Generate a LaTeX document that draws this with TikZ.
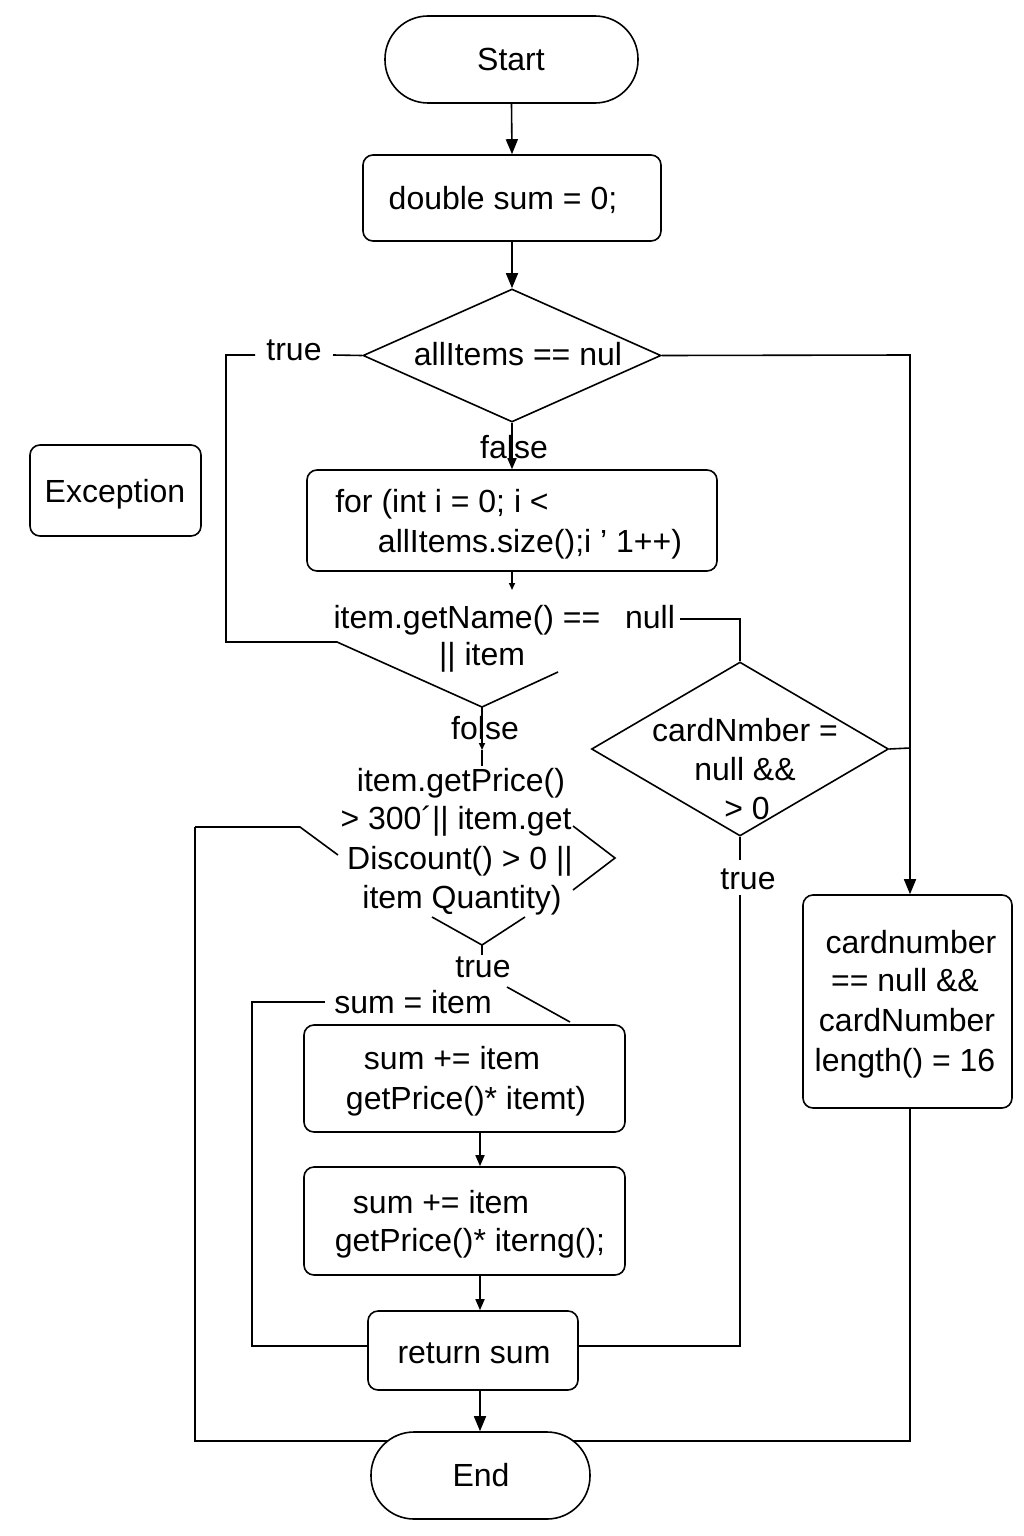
\documentclass[tikz,border=0pt]{standalone}
\usepackage{fontspec}
\setmainfont{Liberation Sans}
\usetikzlibrary{arrows.meta,shapes.geometric}
\begin{document}
\begin{tikzpicture}[x=1pt,y=-1pt,line width=1.6pt,
  box/.style={draw,rounded corners=10pt,inner sep=0pt},
  stad/.style={draw,rounded corners=43pt,inner sep=0pt},
  dia/.style={draw,diamond,inner sep=0pt},
  txt/.style={anchor=base,inner sep=0pt,font=\fontsize{32}{38}\selectfont},
  arr/.style={-{Triangle[length=15pt,width=12pt]}},
  marr/.style={-{Triangle[length=11pt,width=9pt]}},
  sarr/.style={-{Triangle[length=7pt,width=6pt]}}]
\useasboundingbox (0,0) rectangle (1024,1536);
% shapes
\node[stad,minimum width=253pt,minimum height=87pt] (start) at (511.5,59.5) {};
\node[box,minimum width=298pt,minimum height=86pt] (dbl) at (512,198) {};
\node[dia,minimum width=298pt,minimum height=133pt] (d1) at (512,355.5) {};
\node[box,minimum width=410pt,minimum height=101pt] (for) at (512,520.5) {};
\node[box,minimum width=171pt,minimum height=91pt] (exc) at (115.5,490.5) {};
\node[dia,minimum width=297pt,minimum height=174pt] (d2) at (740,749) {};
\node[box,minimum width=209pt,minimum height=213pt] (cn) at (907.5,1001.5) {};
\node[box,minimum width=321pt,minimum height=107pt] (s1) at (464.5,1078.5) {};
\node[box,minimum width=321pt,minimum height=108pt] (s2) at (464.5,1221) {};
\node[box,minimum width=210pt,minimum height=79pt] (ret) at (473,1350.5) {};
\node[stad,minimum width=219pt,minimum height=87pt] (End) at (480.5,1475.5) {};
% texts
\node[txt] (tstart) at (511,71) {Start};
\node[txt] (tdbl) at (503,209) {double sum = 0;};
\node[txt] (td1) at (518,365) {allItems == nul};
\node[txt] (ttrue1) at (294,360) {true};
\node[txt] (tfalse) at (514,458) {false};
\node[txt] (tfor1) at (442,512) {for (int i = 0; i <};
\node[txt] (tfor2) at (530,552) {allItems.size();i ’ 1++)};
\node[txt] (tgn1) at (467,628) {item.getName() ==};
\node[txt] (tnull) at (650,628) {null};
\node[txt] (tgn2) at (482,665) {|| item};
\node[txt] (tfolse) at (485,739) {folse};
\node[txt] (tp1) at (461,791) {item.getPrice()};
\node[txt] (tp2) at (456,829) {> 300´|| item.get};
\node[txt] (tp3) at (460,869) {Discount() > 0 ||};
\node[txt] (tp4) at (462,908) {item Quantity)};
\node[txt] (ttrue2) at (483,977) {true};
\node[txt] (tsumi) at (413,1013) {sum = item};
\node[txt] (tc1) at (745,741) {cardNmber =};
\node[txt] (tc2) at (745,780) {null \&\&};
\node[txt] (tc3) at (747,819) {> 0};
\node[txt] (ttrue3) at (748,889) {true};
\node[txt] (tcn1) at (911,953) {cardnumber};
\node[txt] (tcn2) at (905,991) {== null \&\&};
\node[txt] (tcn3) at (907,1031) {cardNumber};
\node[txt] (tcn4) at (905,1071) {length() = 16};
\node[txt] (ts11) at (452,1069) {sum += item};
\node[txt] (ts12) at (466,1109) {getPrice()* itemt)};
\node[txt] (ts21) at (441,1213) {sum += item};
\node[txt] (ts22) at (470,1251) {getPrice()* iterng();};
\node[txt] (tret) at (474,1363) {return sum};
\node[txt] (tend) at (481,1486) {End};
\node[txt] (texc) at (115,502) {Exception};
% coordinates
\coordinate (colB) at (480,0);
\coordinate (tl1) at (333,355);
\coordinate (tl2) at (255,355);
\coordinate (tl3) at (226,355);
\coordinate (tl4) at (226,642);
\coordinate (tl5) at (337,642);
\coordinate (fz) at (482,707);
\coordinate (fz2) at (558,672);
\coordinate (gn) at (512,590);
\coordinate (n1) at (680,619);
\coordinate (n2) at (740,619);
\coordinate (fa) at (482,750);
\coordinate (fb) at (482,766);
\coordinate (q1) at (195,827);
\coordinate (q2) at (300,827);
\coordinate (q3) at (338,855);
\coordinate (r1) at (573,826);
\coordinate (r2) at (615,858);
\coordinate (r3) at (573,890);
\coordinate (b1) at (432,917);
\coordinate (b2) at (482,945);
\coordinate (b3) at (525,917);
\coordinate (b4) at (482,955);
\coordinate (q4) at (195,1441);
\coordinate (e1) at (388,1441);
\coordinate (u1) at (252,1002);
\coordinate (u2) at (325,1002);
\coordinate (u3) at (252,1346);
\coordinate (g1) at (507,987);
\coordinate (g2) at (570,1022);
\coordinate (h1) at (740,1346);
\coordinate (h2) at (740,895);
\coordinate (h3) at (740,860);
\coordinate (k1) at (910,355);
\coordinate (k2) at (910,748);
\coordinate (k3) at (910,1441);
\coordinate (e2) at (573,1441);
% connectors
\draw[arr] (start.south) -- (dbl.north);
\draw[arr] (dbl.south) -- (d1.north);
\draw (d1.west) -- (tl1);
\draw (tl2) -- (tl3) -- (tl4) -- (tl5) -- (fz) -- (fz2);
\draw[marr] (d1.south) -- (for.north);
\draw[sarr] (for.south) -- (gn);
\draw (n1) -- (n2) -- (d2.north);
\draw[sarr] (fz) -- (fa);
\draw (fa) -- (fb);
\draw (q1) -- (q2) -- (q3);
\draw (r1) -- (r2) -- (r3);
\draw (b1) -- (b2) -- (b3);
\draw (b2) -- (b4);
\draw (q1) -- (q4) -- (e1);
\draw (u2) -- (u1) -- (u3) -- (u3 -| ret.west);
\draw (g1) -- (g2);
\draw[marr] (s1.south -| colB) -- (s2.north -| colB);
\draw[marr] (s2.south -| colB) -- (ret.north -| colB);
\draw[arr] (ret.south -| colB) -- (End.north -| colB);
\draw (h1 -| ret.east) -- (h1) -- (h2);
\draw (d2.south) -- (h3);
\draw[arr] (d1.east) -- (k1) -- (k1 |- cn.north);
\draw (d2.east) -- (k2);
\draw (k1 |- cn.south) -- (k3) -- (e2);
\end{tikzpicture}
\end{document}
